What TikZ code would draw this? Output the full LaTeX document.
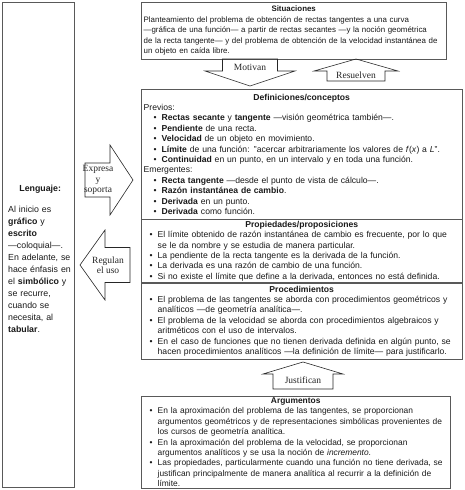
\documentclass[tikz,border=0pt]{standalone}
\usepackage{fontspec}
\setmainfont{Liberation Serif}
\setsansfont{Liberation Sans}
\usetikzlibrary{positioning}

\newcommand{\lin}[1]{\mbox{#1}}
\newcommand{\itm}[1]{\mbox{\makebox[8pt][l]{\textbullet}#1}}
\newcommand{\cnt}[1]{\mbox{\hspace*{8pt}#1}}
\newcommand{\titulo}[1]{\makebox[\hsize]{\textbf{#1}}}

\begin{document}
\begin{tikzpicture}[x=1pt, y=-1pt]
  \tikzset{
    panel/.style={draw=black!65, thin, inner xsep=2.5pt, inner ysep=1.5pt, align=left, text=black!90,
      font=\sffamily\fontsize{8.6}{10.4}\selectfont},
    arrowtext/.style={font=\rmfamily\fontsize{9.5}{10.5}\selectfont, align=center, inner sep=0pt, text=black!85},
    blockline/.style={draw=black!85, line width=0.6pt, line join=miter}
  }
  \useasboundingbox (0,0) rectangle (465,490);

  % left column
  \node[panel, anchor=north west, minimum width=72pt, minimum height=485pt] (lenguaje) at (2,2) {};
  \node[anchor=north west, align=left, inner sep=0pt, text=black!90, text width=64pt,
    font=\sffamily\fontsize{8.8}{12}\selectfont] (lenguajetexto) at (8,185) {%
    \makebox[\hsize]{\textbf{Lenguaje:}}\\[9pt]
    Al inicio es\\ \textbf{gráfico} y\\ \textbf{escrito}\\ —coloquial—.\\ En adelante, se\\
    hace énfasis en\\ el \textbf{simbólico} y\\ se recurre,\\ cuando se\\ necesita, al\\ \textbf{tabular}.};

  % boxes on the right
  \node[panel, anchor=north west, text width=300pt, minimum height=57pt,
    font=\sffamily\fontsize{7.9}{10.4}\selectfont] (situaciones) at (141,2) {%
    \titulo{Situaciones}\\
    \lin{Planteamiento del problema de obtención de rectas tangentes a una curva}\\
    \lin{—gráfica de una función— a partir de rectas secantes —y la noción geométrica}\\
    \lin{de la recta tangente— y del problema de obtención de la velocidad instantánea de}\\
    \lin{un objeto en caída libre.}};

  \node[panel, anchor=north west, text width=316pt, minimum height=130pt] (definiciones) at (141,89) {%
    \titulo{Definiciones/conceptos}\\
    Previos:\\
    \hspace*{10pt}\itm{\textbf{Rectas secante} y \textbf{tangente} —visión geométrica también—.}\\
    \hspace*{10pt}\itm{\textbf{Pendiente} de una recta.}\\
    \hspace*{10pt}\itm{\textbf{Velocidad} de un objeto en movimiento.}\\
    \hspace*{10pt}\itm{\textbf{Límite} de una función: "acercar arbitrariamente los valores de \textit{f}(\textit{x}) a \textit{L}".}\\
    \hspace*{10pt}\itm{\textbf{Continuidad} en un punto, en un intervalo y en toda una función.}\\
    Emergentes:\\
    \hspace*{10pt}\itm{\textbf{Recta tangente} —desde el punto de vista de cálculo—.}\\
    \hspace*{10pt}\itm{\textbf{Razón instantánea de cambio}.}\\
    \hspace*{10pt}\itm{\textbf{Derivada} en un punto.}\\
    \hspace*{10pt}\itm{\textbf{Derivada} como función.}};

  \node[panel, text width=316pt, minimum height=63pt, below=0pt of definiciones] (propiedades) {%
    \titulo{Propiedades/proposiciones}\\
    \hspace*{6pt}\itm{El límite obtenido de razón instantánea de cambio es frecuente, por lo que}\\
    \hspace*{6pt}\cnt{se le da nombre y se estudia de manera particular.}\\
    \hspace*{6pt}\itm{La pendiente de la recta tangente es la derivada de la función.}\\
    \hspace*{6pt}\itm{La derivada es una razón de cambio de una función.}\\
    \hspace*{6pt}\itm{Si no existe el límite que define a la derivada, entonces no está definida.}};

  \node[panel, text width=316pt, minimum height=76pt, below=0pt of propiedades] (procedimientos) {%
    \titulo{Procedimientos}\\
    \hspace*{6pt}\itm{El problema de las tangentes se aborda con procedimientos geométricos y}\\
    \hspace*{6pt}\cnt{analíticos —de geometría analítica—.}\\
    \hspace*{6pt}\itm{El problema de la velocidad se aborda con procedimientos algebraicos y}\\
    \hspace*{6pt}\cnt{aritméticos con el uso de intervalos.}\\
    \hspace*{6pt}\itm{En el caso de funciones que no tienen derivada definida en algún punto, se}\\
    \hspace*{6pt}\cnt{hacen procedimientos analíticos —la definición de límite— para justificarlo.}};

  \node[panel, anchor=north west, text width=304pt, minimum height=92pt,
    font=\sffamily\fontsize{8.4}{10.4}\selectfont] (argumentos) at (141,396) {%
    \titulo{Argumentos}\\
    \hspace*{6pt}\itm{En la aproximación del problema de las tangentes, se proporcionan}\\
    \hspace*{6pt}\cnt{argumentos geométricos y de representaciones simbólicas provenientes de}\\
    \hspace*{6pt}\cnt{los cursos de geometría analítica.}\\
    \hspace*{6pt}\itm{En la aproximación del problema de la velocidad, se proporcionan}\\
    \hspace*{6pt}\cnt{argumentos analíticos y se usa la noción de \textit{incremento}.}\\
    \hspace*{6pt}\itm{Las propiedades, particularmente cuando una función no tiene derivada, se}\\
    \hspace*{6pt}\cnt{justifican principalmente de manera analítica al recurrir a la definición de}\\
    \hspace*{6pt}\cnt{límite.}};

  % block arrows
  \def\blockarrow#1#2#3#4{+(-#1,0) -- +(-#1,#2) -- +(-#3,#2) -- +(0,#2+#4) -- +(#3,#2) -- +(#1,#2) -- +(#1,0) -- cycle}

  \draw[blockline, shift={(250,59)}] (0,0) \blockarrow{27.5}{12}{45}{15};
  \node[arrowtext] (motivan) at (250,67) {Motivan};

  \draw[blockline, shift={(356,81)}, yscale=-1] (0,0) \blockarrow{29}{10}{42}{12};
  \node[arrowtext] (resuelven) at (356,75) {Resuelven};

  \draw[blockline, shift={(85,180)}, rotate=90] (0,0) \blockarrow{17}{25}{35}{23};
  \node[arrowtext] (expresa) at (98,180) {Expresa\\y\\soporta};

  \draw[blockline, shift={(130,265)}, rotate=-90] (0,0) \blockarrow{17.5}{25}{35}{25};
  \node[arrowtext] (regulan) at (108,265) {Regulan\\el uso};

  \draw[blockline, shift={(303,389)}, yscale=-1] (0,0) \blockarrow{30}{15}{40}{12};
  \node[arrowtext] (justifican) at (303,380) {Justifican};
\end{tikzpicture}
\end{document}
